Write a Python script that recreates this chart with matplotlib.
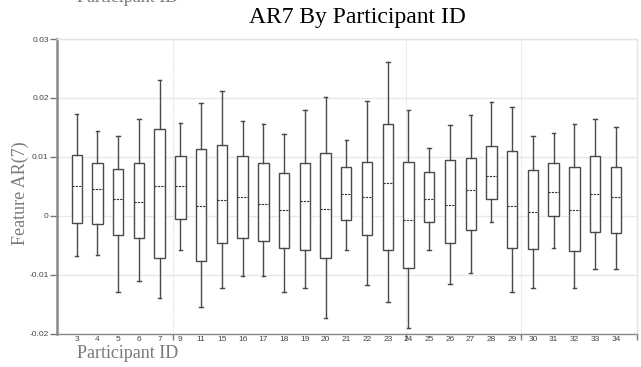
import matplotlib
matplotlib.use("Agg")
import matplotlib.pyplot as plt

participants = ["3", "4", "5", "6", "7", "9", "11", "15", "16", "17", "18", "19", "20",
                "21", "22", "23", "24", "25", "26", "27", "28", "29", "30", "31", "32", "33", "34"]
whisker_hi = [0.0172, 0.0143, 0.0136, 0.0165, 0.0231, 0.0158, 0.0191, 0.0212, 0.0160, 0.0155,
              0.0139, 0.0179, 0.0202, 0.0128, 0.0195, 0.0261, 0.0180, 0.0115, 0.0154, 0.0171,
              0.0193, 0.0184, 0.0135, 0.0140, 0.0155, 0.0165, 0.0150]
q3 = [0.0103, 0.0089, 0.0080, 0.0089, 0.0147, 0.0101, 0.0114, 0.0120, 0.0102, 0.0090,
      0.0072, 0.0090, 0.0107, 0.0083, 0.0092, 0.0156, 0.0092, 0.0075, 0.0094, 0.0098,
      0.0118, 0.0110, 0.0077, 0.0089, 0.0082, 0.0101, 0.0083]
medians = [0.0051, 0.0046, 0.0028, 0.0024, 0.0050, 0.0051, 0.0016, 0.0027, 0.0031, 0.0020,
           0.0010, 0.0025, 0.0011, 0.0036, 0.0032, 0.0055, -0.0007, 0.0029, 0.0018, 0.0044,
           0.0067, 0.0016, 0.0007, 0.0040, 0.0010, 0.0036, 0.0031]
q1 = [-0.0012, -0.0014, -0.0033, -0.0038, -0.0072, -0.0006, -0.0077, -0.0046, -0.0038, -0.0043,
      -0.0055, -0.0059, -0.0072, -0.0008, -0.0032, -0.0059, -0.0089, -0.0011, -0.0046, -0.0024,
      0.0028, -0.0055, -0.0057, -0.0001, -0.0060, -0.0028, -0.0029]
whisker_lo = [-0.0069, -0.0067, -0.0129, -0.0111, -0.0139, -0.0059, -0.0155, -0.0122, -0.0103, -0.0103,
              -0.0129, -0.0122, -0.0173, -0.0058, -0.0118, -0.0146, -0.0190, -0.0058, -0.0116, -0.0097,
              -0.0011, -0.0129, -0.0122, -0.0054, -0.0122, -0.0090, -0.0090]
y_ticks = [-0.02, -0.01, 0.0, 0.01, 0.02, 0.03]
y_tick_labels = ["-0.02", "-0.01", "0", "0.01", "0.02", "0.03"]
v_grid_positions = [4.64, 15.86, 21.42, 27.0]

W, H = 641, 367
fig = plt.figure(figsize=(W / 100, H / 100), dpi=100)
ax = fig.add_axes([57 / W, 1 - 333.5 / H, (637 - 57) / W, (333.5 - 39) / H])

stats = []
for i, p in enumerate(participants):
    stats.append(dict(label=p, whishi=whisker_hi[i], q3=q3[i], med=medians[i],
                      q1=q1[i], whislo=whisker_lo[i], fliers=[]))

edge = "#4a4a4a"
ax.bxp(stats, positions=range(len(participants)), widths=0.5, showfliers=False,
       patch_artist=True,
       boxprops=dict(facecolor="white", edgecolor=edge, linewidth=1.0),
       whiskerprops=dict(color=edge, linewidth=1.0),
       capprops=dict(color=edge, linewidth=1.0),
       capwidths=0.17,
       medianprops=dict(color="#333333", linewidth=0.8, linestyle=(0, (2, 1))),
       zorder=3)

ax.set_xlim(-0.95, 27.02)
ax.set_ylim(-0.02, 0.03)

# grid
for yv in y_ticks:
    ax.axhline(yv, color="#e8e8e8", linewidth=1.0, zorder=0)
for xv in v_grid_positions:
    ax.axvline(xv, color="#dcdcdc", linewidth=0.8, linestyle=(0, (1, 1)), zorder=0)

ax.set_yticks(y_ticks)
ax.set_yticklabels(y_tick_labels)
ax.tick_params(axis="y", direction="out", length=5, width=1.0, color="#777777",
               labelsize=6, labelcolor="#444444", pad=1)

ax.set_xticks(v_grid_positions)
ax.set_xticklabels([""] * len(v_grid_positions))
ax.tick_params(axis="x", direction="out", length=4, width=1.0, color="#777777")
for i, p in enumerate(participants):
    ax.text(i, -0.0204, p, ha="center", va="top", fontsize=6, color="#444444",
            family="Liberation Sans", transform=ax.transData, clip_on=False)

for lab in ax.get_yticklabels():
    lab.set_family("Liberation Sans")

ax.spines["left"].set_color("#8a8a8a")
ax.spines["left"].set_linewidth(1.8)
ax.spines["bottom"].set_color("#8a8a8a")
ax.spines["bottom"].set_linewidth(1.0)
ax.spines["top"].set_color("#e4e4e4")
ax.spines["top"].set_linewidth(1.0)
ax.spines["right"].set_color("#e4e4e4")
ax.spines["right"].set_linewidth(1.0)

fig.text(357 / W, 1 - 18 / H, "AR7 By Participant ID", ha="center", va="center",
         fontsize=17, family="Liberation Serif", color="black")
fig.text(128 / W, 1 - 353 / H, "Participant ID", ha="center", va="center",
         fontsize=13, family="Liberation Serif", color="#7a7a7a")
fig.text(128 / W, 1 - 2.5 / H, "Participant ID", ha="center", va="baseline",
         fontsize=13, family="Liberation Serif", color="#7a7a7a")
fig.text(20 / W, 1 - 193 / H, "Feature AR(7)", ha="center", va="center",
         rotation=90, fontsize=13, family="Liberation Serif", color="#7a7a7a")

fig.savefig("out.png", dpi=100, facecolor="white")
